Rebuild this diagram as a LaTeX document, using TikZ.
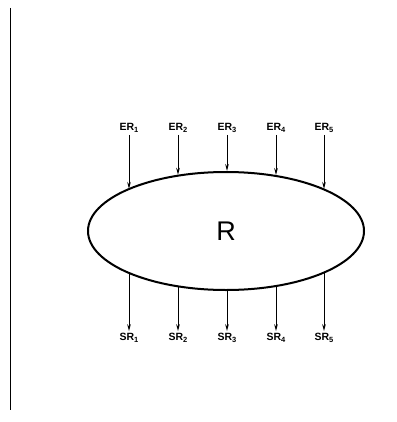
\documentclass[tikz,border=0pt]{standalone}
\usepackage{fontspec}
\setmainfont{Liberation Sans}
\usepackage{tikz}
\usetikzlibrary{arrows.meta,shapes.geometric}

\newcommand{\idx}[2]{#1\raisebox{-0.25ex}{\fontsize{7.5}{7.5}\selectfont #2}}

\begin{document}
\begin{tikzpicture}[
    x=1pt, y=-1pt,
    body/.style={draw, ellipse, line width=2pt, minimum width=276pt, minimum height=118pt, inner sep=0pt, font=\fontsize{27}{27}\selectfont},
    lab/.style={font=\bfseries\fontsize{10.5}{11}\selectfont, inner sep=1pt, outer sep=1.5pt},
    arr/.style={-{Stealth[length=7pt, width=3.6pt]}, line width=1pt},
]
    \useasboundingbox (0,0) rectangle (396,422);
    \draw[line width=1pt] (10,8) -- (10,410);

    \node[body] (R) at (226,231) {R};

    % entrees en haut, sorties en bas
    \foreach \i/\x/\a in {1/129/157, 2/178/131, 3/227/90, 4/276/48, 5/324/23} {
        \node[lab] (er\i) at (\x,128) {\idx{ER}{\i}};
        \node[lab] (sr\i) at (\x,338) {\idx{SR}{\i}};
        \draw[arr] (er\i.south) -- (er\i.south |- R.\a);
        \draw[arr] (sr\i.north |- R.-\a) -- (sr\i.north);
    }
\end{tikzpicture}
\end{document}
